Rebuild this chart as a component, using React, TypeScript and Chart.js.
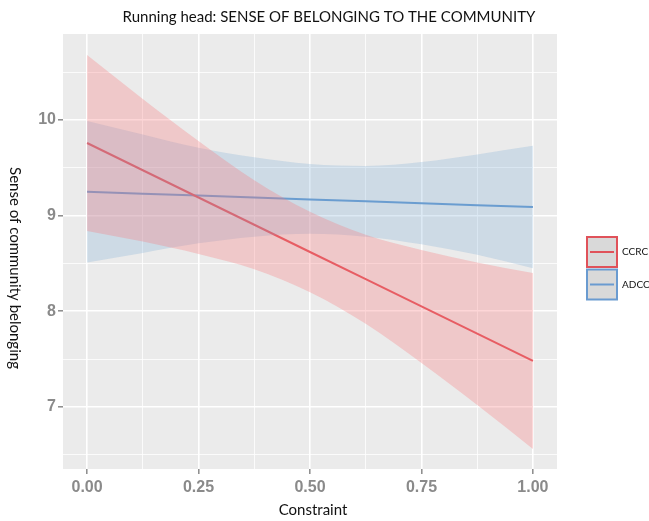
import React, { useEffect, useRef } from "react";
import { Chart, registerables } from "chart.js";

Chart.register(...registerables);

const constraint = [0, 0.125, 0.25, 0.375, 0.5, 0.625, 0.75, 0.875, 1];
const ccrcFit = [9.76, 9.475, 9.19, 8.905, 8.62, 8.335, 8.05, 7.765, 7.48];
const ccrcUpper = [10.68, 10.22, 9.78, 9.37, 9.04, 8.8, 8.64, 8.51, 8.4];
const ccrcLower = [8.84, 8.73, 8.6, 8.44, 8.2, 7.87, 7.46, 7.02, 6.56];
const adccFit = [9.25, 9.23, 9.21, 9.19, 9.17, 9.15, 9.13, 9.11, 9.09];
const adccUpper = [9.99, 9.85, 9.71, 9.61, 9.54, 9.52, 9.56, 9.64, 9.73];
const adccLower = [8.51, 8.61, 8.71, 8.78, 8.81, 8.78, 8.7, 8.59, 8.45];

const xMajor = [0, 0.25, 0.5, 0.75, 1];
const xMinor = [0.125, 0.375, 0.625, 0.875];
const yMajor = [7, 8, 9, 10];
const yMinor = [6.5, 7.5, 8.5, 9.5, 10.5];
const groups = ["CCRC", "ADCC"];
const groupColors = ["#e0525a", "#6a9bd0"];
const bandColors = ["rgba(248,120,122,0.30)", "rgba(110,165,210,0.24)"];

const titleText = "Running head: SENSE OF BELONGING TO THE COMMUNITY";
const xTitle = "Constraint";
const yTitle = "Sense of community belonging";

const pts = (ys: number[]) => constraint.map((x, i) => ({ x, y: ys[i] }));

export default function App() {
  const ref = useRef<HTMLCanvasElement | null>(null);
  useEffect(() => {
    if (!ref.current) return;
    const decor = {
      id: "decor",
      beforeDraw(chart: any) {
        const { ctx, chartArea: a } = chart;
        ctx.save();
        ctx.fillStyle = "#ebebeb";
        ctx.fillRect(a.left, a.top, a.right - a.left, a.bottom - a.top);
        ctx.restore();
      },
      afterDraw(chart: any) {
        const { ctx, chartArea: a } = chart;
        ctx.save();
        ctx.fillStyle = "#111";
        ctx.textAlign = "center";
        ctx.textBaseline = "middle";
        ctx.font = '15px Lato';
        ctx.fillText(titleText, 329, 17);
        ctx.fillText(xTitle, (a.left + a.right) / 2 + 3, 510);
        ctx.save();
        ctx.translate(15, 268);
        ctx.rotate(Math.PI / 2);
        ctx.fillText(yTitle, 0, 0);
        ctx.restore();
        // legend
        groups.forEach((g, i) => {
          const bx = 587, by = 237 + i * 32.5, w = 30, h = 30;
          ctx.fillStyle = "#d9d9d9";
          ctx.fillRect(bx, by, w, h);
          ctx.strokeStyle = groupColors[i];
          ctx.lineWidth = 2;
          ctx.strokeRect(bx, by, w, h);
          ctx.beginPath();
          ctx.moveTo(bx + 3, by + h / 2);
          ctx.lineTo(bx + w - 3, by + h / 2);
          ctx.stroke();
          ctx.fillStyle = "#111";
          ctx.font = '10px Lato';
          ctx.textAlign = "left";
          ctx.fillText(g, bx + w + 5, by + h / 2);
        });
        ctx.restore();
      },
    };
    const band = { borderWidth: 0, pointRadius: 0, tension: 0.4, cubicInterpolationMode: "monotone" };
    const chart = new Chart(ref.current, {
      type: "line",
      data: {
        datasets: [
          { label: "CCRC upper", data: pts(ccrcUpper), fill: "+1", backgroundColor: bandColors[0], ...band },
          { label: "CCRC lower", data: pts(ccrcLower), fill: false, ...band },
          { label: "ADCC upper", data: pts(adccUpper), fill: "+1", backgroundColor: bandColors[1], ...band },
          { label: "ADCC lower", data: pts(adccLower), fill: false, ...band },
          { label: groups[0], data: pts(ccrcFit), borderColor: groupColors[0], borderWidth: 2, pointRadius: 0, fill: false },
          { label: groups[1], data: pts(adccFit), borderColor: groupColors[1], borderWidth: 2, pointRadius: 0, fill: false },
        ],
      },
      options: {
        responsive: false,
        animation: false,
        devicePixelRatio: 1,
        layout: { padding: { top: 34, right: 92, left: 0, bottom: 0 } },
        plugins: { legend: { display: false }, tooltip: { enabled: false }, title: { display: false } },
        scales: {
          x: {
            type: "linear",
            min: -0.054,
            max: 1.054,
            afterBuildTicks: (s: any) => {
              s.ticks = [...xMajor, ...xMinor].sort((p, q) => p - q).map((v) => ({ value: v }));
            },
            afterFit: (s: any) => { s.height = 52; },
            border: { display: false },
            grid: {
              color: "#ffffff",
              lineWidth: (c: any) => (xMajor.includes(c.tick?.value) ? 1.6 : 0.8),
              tickColor: (c: any) => (xMajor.includes(c.tick?.value) ? "#8a8a8a" : "rgba(0,0,0,0)"),
              tickLength: 5,
              tickWidth: 1.5,
            },
            ticks: {
              autoSkip: false,
              maxRotation: 0,
              padding: 4,
              color: "#8a8a8a",
              font: { family: "'Liberation Sans', Arial", size: 16, weight: "bold" },
              callback: (v: any) => (xMajor.includes(Number(v)) ? Number(v).toFixed(2) : ""),
            },
          },
          y: {
            type: "linear",
            min: 6.35,
            max: 10.9,
            afterBuildTicks: (s: any) => {
              s.ticks = [...yMajor, ...yMinor].sort((p, q) => p - q).map((v) => ({ value: v }));
            },
            afterFit: (s: any) => { s.width = 63; },
            border: { display: false },
            grid: {
              color: "#ffffff",
              lineWidth: (c: any) => (yMajor.includes(c.tick?.value) ? 1.6 : 0.8),
              tickColor: (c: any) => (yMajor.includes(c.tick?.value) ? "#8a8a8a" : "rgba(0,0,0,0)"),
              tickLength: 5,
              tickWidth: 1.5,
            },
            ticks: {
              autoSkip: false,
              padding: 2,
              color: "#8a8a8a",
              font: { family: "'Liberation Sans', Arial", size: 16, weight: "bold" },
              callback: (v: any) => (yMajor.includes(Number(v)) ? String(v) : ""),
            },
          },
        },
      },
      plugins: [decor],
    } as any);
    return () => chart.destroy();
  }, []);
  return (
    <div style={{ position: "absolute", left: 0, top: 0, width: 649, height: 521, background: "#fff" }}>
      <canvas ref={ref} width={649} height={521} style={{ display: "block" }} />
    </div>
  );
}
